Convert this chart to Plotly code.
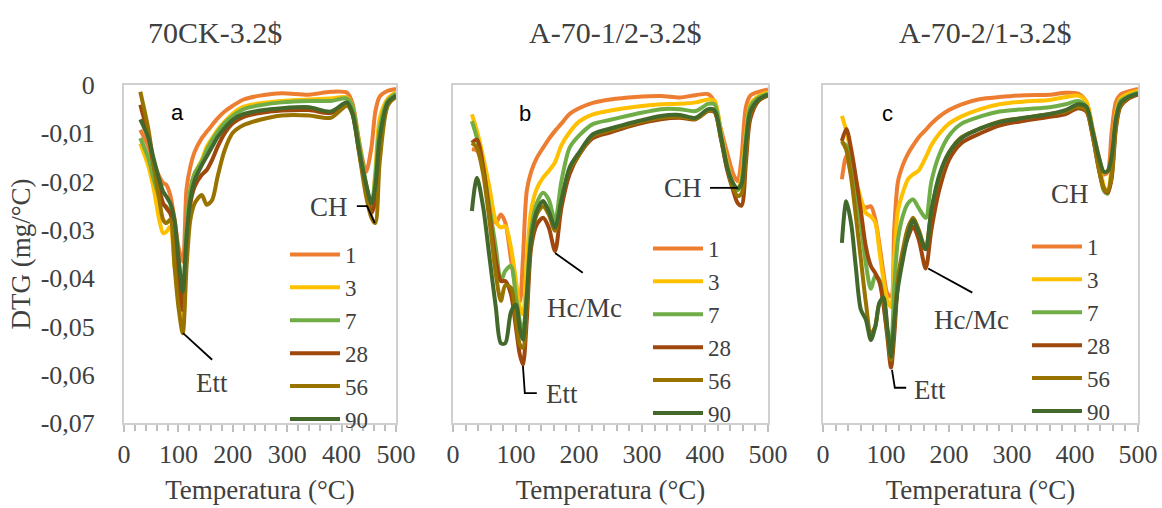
import plotly.graph_objects as go

# ---------------- data (DTG in mg/°C) ----------------
series_names = ["1", "3", "7", "28", "56", "90"]
colors = ["#ED7D31", "#FFC000", "#70AD47", "#9E480E", "#997300", "#43682B"]
panel_titles = ["70CK-3.2$", "A-70-1/2-3.2$", "A-70-2/1-3.2$"]
panel_letters = ["a", "b", "c"]

temp_a = [30, 45, 55, 65, 72, 78, 85, 93, 100, 108, 115, 122, 130, 143, 152, 162, 172, 185, 200, 220,
          250, 290, 340, 380, 410, 420, 432, 445, 455, 462, 470, 485, 500]
a_1 = [-0.0093, -0.0128, -0.0162, -0.0190, -0.0203, -0.0207, -0.0228, -0.0279, -0.0335, -0.0366,
       -0.0215, -0.0169, -0.0138, -0.0110, -0.0097, -0.0083, -0.0069, -0.0055, -0.0043, -0.0030,
       -0.0022, -0.0017, -0.0020, -0.0014, -0.0016, -0.0038, -0.0115, -0.0180, -0.0128, -0.0055,
       -0.0024, -0.0012, -0.0008]
a_3 = [-0.0121, -0.0169, -0.0217, -0.0280, -0.0307, -0.0304, -0.0293, -0.0376, -0.0438, -0.0500,
       -0.0335, -0.0217, -0.0183, -0.0155, -0.0128, -0.0110, -0.0093, -0.0076, -0.0059, -0.0045,
       -0.0038, -0.0033, -0.0030, -0.0028, -0.0026, -0.0045, -0.0120, -0.0210, -0.0255, -0.0180,
       -0.0070, -0.0028, -0.0015]
a_7 = [-0.0110, -0.0152, -0.0197, -0.0231, -0.0248, -0.0252, -0.0262, -0.0293, -0.0362, -0.0435,
       -0.0300, -0.0217, -0.0183, -0.0159, -0.0135, -0.0114, -0.0097, -0.0079, -0.0064, -0.0050,
       -0.0042, -0.0036, -0.0033, -0.0033, -0.0028, -0.0045, -0.0120, -0.0205, -0.0250, -0.0190,
       -0.0090, -0.0032, -0.0018]
a_28 = [-0.0041, -0.0107, -0.0169, -0.0217, -0.0245, -0.0255, -0.0266, -0.0307, -0.0390, -0.0466,
        -0.0335, -0.0245, -0.0210, -0.0186, -0.0176, -0.0155, -0.0128, -0.0100, -0.0079, -0.0066,
        -0.0058, -0.0053, -0.0052, -0.0058, -0.0040, -0.0058, -0.0135, -0.0220, -0.0265, -0.0240,
        -0.0130, -0.0040, -0.0023]
a_56 = [-0.0014, -0.0093, -0.0169, -0.0238, -0.0279, -0.0286, -0.0279, -0.0376, -0.0459, -0.0514,
        -0.0376, -0.0279, -0.0245, -0.0228, -0.0248, -0.0238, -0.0190, -0.0135, -0.0099, -0.0083,
        -0.0072, -0.0063, -0.0063, -0.0068, -0.0043, -0.0060, -0.0140, -0.0230, -0.0275, -0.0286,
        -0.0160, -0.0042, -0.0025]
a_90 = [-0.0071, -0.0110, -0.0155, -0.0197, -0.0221, -0.0231, -0.0245, -0.0280, -0.0356, -0.0428,
        -0.0314, -0.0238, -0.0197, -0.0166, -0.0148, -0.0128, -0.0108, -0.0089, -0.0072, -0.0060,
        -0.0053, -0.0048, -0.0046, -0.0055, -0.0036, -0.0060, -0.0135, -0.0205, -0.0245, -0.0210,
        -0.0110, -0.0036, -0.0022]

temp_b = [30, 38, 48, 58, 68, 76, 83, 92, 100, 106, 111, 117, 124, 133, 143, 152, 162, 172,
          185, 200, 222, 250, 290, 330, 360, 385, 405, 415, 425, 435, 445, 452, 458, 465, 472, 485, 500]
b_1 = [-0.0133, -0.0136, -0.0175, -0.0230, -0.0285, -0.0268, -0.0285, -0.0360, -0.0425, -0.0450,
       -0.0360, -0.0220, -0.0180, -0.0151, -0.0130, -0.0112, -0.0095, -0.0080,
       -0.0060, -0.0048, -0.0037, -0.0030, -0.0025, -0.0023, -0.0026, -0.0021, -0.0019, -0.0035,
       -0.0090, -0.0140, -0.0185, -0.0199, -0.0150, -0.0045, -0.0022, -0.0014, -0.0009]
b_3 = [-0.0061, -0.0095, -0.0150, -0.0213, -0.0282, -0.0295, -0.0292, -0.0337, -0.0406, -0.0461,
       -0.0475, -0.0364, -0.0260, -0.0215, -0.0192, -0.0178, -0.0160, -0.0125,
       -0.0098, -0.0076, -0.0061, -0.0053, -0.0045, -0.0040, -0.0039, -0.0036, -0.0030, -0.0032,
       -0.0095, -0.0160, -0.0205, -0.0218, -0.0190, -0.0100, -0.0040, -0.0023, -0.0015]
b_7 = [-0.0075, -0.0110, -0.0171, -0.0254, -0.0337, -0.0406, -0.0385, -0.0375, -0.0440, -0.0489,
       -0.0510, -0.0433, -0.0300, -0.0245, -0.0223, -0.0237, -0.0282, -0.0200,
       -0.0130, -0.0105, -0.0081, -0.0072, -0.0060, -0.0050, -0.0050, -0.0054, -0.0039, -0.0040,
       -0.0100, -0.0165, -0.0205, -0.0218, -0.0200, -0.0110, -0.0045, -0.0026, -0.0018]
b_28 = [-0.0120, -0.0113, -0.0171, -0.0268, -0.0364, -0.0406, -0.0406, -0.0433, -0.0503, -0.0558,
        -0.0579, -0.0489, -0.0337, -0.0289, -0.0275, -0.0295, -0.0344, -0.0255,
        -0.0185, -0.0145, -0.0110, -0.0098, -0.0082, -0.0071, -0.0068, -0.0071, -0.0054, -0.0056,
        -0.0110, -0.0175, -0.0220, -0.0245, -0.0250, -0.0160, -0.0070, -0.0033, -0.0022]
b_56 = [-0.0120, -0.0130, -0.0185, -0.0282, -0.0392, -0.0447, -0.0415, -0.0420, -0.0489, -0.0537,
        -0.0544, -0.0461, -0.0323, -0.0268, -0.0251, -0.0268, -0.0302, -0.0240,
        -0.0175, -0.0145, -0.0105, -0.0094, -0.0079, -0.0068, -0.0066, -0.0070, -0.0053, -0.0054,
        -0.0108, -0.0170, -0.0215, -0.0230, -0.0225, -0.0140, -0.0060, -0.0031, -0.0021]
b_90 = [-0.0261, -0.0192, -0.0254, -0.0358, -0.0461, -0.0535, -0.0535, -0.0470, -0.0455, -0.0503,
        -0.0527, -0.0440, -0.0320, -0.0261, -0.0240, -0.0261, -0.0295, -0.0240,
        -0.0171, -0.0140, -0.0102, -0.0090, -0.0076, -0.0064, -0.0062, -0.0068, -0.0050, -0.0052,
        -0.0105, -0.0170, -0.0205, -0.0214, -0.0205, -0.0120, -0.0055, -0.0030, -0.0020]

temp_c = [30, 37, 45, 52, 60, 68, 76, 83, 90, 96, 102, 108, 113, 119, 127, 135, 143, 152, 163, 172,
          185, 200, 220, 250, 280, 320, 360, 385, 405, 418, 428, 438, 446, 452, 458, 465, 472, 485, 500]
c_1 = [-0.0195, -0.0147, -0.0188, -0.0223, -0.0244, -0.0254, -0.0251, -0.0278, -0.0334, -0.0389,
       -0.0431, -0.0438, -0.0300, -0.0200, -0.0165, -0.0142, -0.0125, -0.0108, -0.0093, -0.0080,
       -0.0065, -0.0052, -0.0040, -0.0029, -0.0025, -0.0021, -0.0020, -0.0016, -0.0018, -0.0035,
       -0.0090, -0.0150, -0.0185, -0.0180, -0.0100, -0.0035, -0.0020, -0.0013, -0.0008]
c_3 = [-0.0064, -0.0095, -0.0145, -0.0195, -0.0235, -0.0265, -0.0272, -0.0285, -0.0348, -0.0403,
       -0.0445, -0.0460, -0.0360, -0.0260, -0.0222, -0.0195, -0.0185, -0.0177, -0.0150, -0.0125,
       -0.0100, -0.0080, -0.0065, -0.0050, -0.0040, -0.0034, -0.0031, -0.0025, -0.0022, -0.0035,
       -0.0095, -0.0160, -0.0210, -0.0222, -0.0170, -0.0060, -0.0028, -0.0018, -0.0012]
c_7 = [-0.0120, -0.0125, -0.0175, -0.0225, -0.0290, -0.0370, -0.0422, -0.0395, -0.0405, -0.0450,
       -0.0510, -0.0530, -0.0420, -0.0320, -0.0270, -0.0245, -0.0237, -0.0255, -0.0275, -0.0200,
       -0.0143, -0.0105, -0.0080, -0.0065, -0.0055, -0.0050, -0.0046, -0.0040, -0.0033, -0.0045,
       -0.0100, -0.0170, -0.0220, -0.0225, -0.0180, -0.0070, -0.0033, -0.0023, -0.0016]
c_28 = [-0.0116, -0.0091, -0.0135, -0.0190, -0.0260, -0.0335, -0.0375, -0.0390, -0.0410, -0.0455,
        -0.0520, -0.0585, -0.0520, -0.0410, -0.0350, -0.0315, -0.0293, -0.0320, -0.0380, -0.0300,
        -0.0215, -0.0155, -0.0120, -0.0100, -0.0084, -0.0074, -0.0066, -0.0060, -0.0048, -0.0055,
        -0.0105, -0.0175, -0.0215, -0.0223, -0.0195, -0.0090, -0.0045, -0.0028, -0.0020]
c_56 = [-0.0116, -0.0135, -0.0195, -0.0270, -0.0360, -0.0450, -0.0515, -0.0500, -0.0450, -0.0450,
        -0.0510, -0.0570, -0.0500, -0.0400, -0.0340, -0.0295, -0.0275, -0.0300, -0.0340, -0.0260,
        -0.0190, -0.0140, -0.0108, -0.0090, -0.0076, -0.0068, -0.0060, -0.0055, -0.0045, -0.0052,
        -0.0105, -0.0175, -0.0215, -0.0220, -0.0190, -0.0085, -0.0042, -0.0026, -0.0019]
c_90 = [-0.0327, -0.0241, -0.0290, -0.0376, -0.0465, -0.0486, -0.0528, -0.0500, -0.0450, -0.0440,
        -0.0500, -0.0563, -0.0490, -0.0420, -0.0360, -0.0310, -0.0280, -0.0305, -0.0340, -0.0260,
        -0.0185, -0.0140, -0.0110, -0.0090, -0.0077, -0.0068, -0.0060, -0.0052, -0.0040, -0.0045,
        -0.0095, -0.0150, -0.0180, -0.0178, -0.0150, -0.0070, -0.0038, -0.0025, -0.0018]

y_tick_vals = [0, -0.01, -0.02, -0.03, -0.04, -0.05, -0.06, -0.07]
y_tick_text = ["0", "-0,01", "-0,02", "-0,03", "-0,04", "-0,05", "-0,06", "-0,07"]
x_tick_vals = [0, 100, 200, 300, 400, 500]

# annotation label positions (data coords: temperature, DTG)
letter_pos = [(99, -0.0056), (114, -0.0060), (103, -0.0060)]
ett_text = [(162, -0.0617), (173, -0.0640), (170, -0.0632)]
ett_lead = [[(108.5, -0.0514), (162, -0.0569)],
            [(111, -0.0582), (114, -0.0638), (133, -0.0638)],
            [(109.5, -0.0590), (114, -0.0627), (132, -0.0627)]]
ch_text = [(377, -0.0253), (365, -0.0213), (392, -0.0226)]
ch_lead = [[(428, -0.0251), (447, -0.0251), (461, -0.0286)],
           [(408, -0.0213), (452, -0.0213)],
           None]
hc_text = [None, (208, -0.0462), (236, -0.0486)]
hc_lead = [None, [(162, -0.0348), (206, -0.0389)], [(167, -0.0380), (237, -0.0430)]]

panels = [
    (temp_a, [a_1, a_3, a_7, a_28, a_56, a_90]),
    (temp_b, [b_1, b_3, b_7, b_28, b_56, b_90]),
    (temp_c, [c_1, c_3, c_7, c_28, c_56, c_90]),
]

# ---------------- layout geometry ----------------
W, H = 1162, 508
x_domains = [(124 / W, 396 / W), (453 / W, 768 / W), (823 / W, 1138 / W)]
y_domain = (1 - 423 / H, 1 - 85 / H)
legend_pos = [(285 / W, 1 - 233 / H), (648 / W, 1 - 227 / H), (1027 / W, 1 - 225 / H)]
title_x = [215 / W, 615 / W, 985 / W]

SERIF = "Liberation Serif"
TXT = "#404040"
AX = "#d0d0d0"

fig = go.Figure()
leg_ids = ["legend", "legend2", "legend3"]
for p, (temps, vals) in enumerate(panels):
    xa = "x" if p == 0 else f"x{p+1}"
    ya = "y" if p == 0 else f"y{p+1}"
    for name, col, v in zip(series_names, colors, vals):
        fig.add_trace(go.Scatter(
            x=temps, y=v, mode="lines", name=name, xaxis=xa, yaxis=ya,
            line=dict(color=col, width=4, shape="spline", smoothing=0.8),
            legend=leg_ids[p], hoverinfo="skip"))

layout = dict(width=W, height=H, margin=dict(l=0, r=0, t=0, b=0),
              plot_bgcolor="white", paper_bgcolor="white", showlegend=True)

for p in range(3):
    sfx = "" if p == 0 else str(p + 1)
    layout["xaxis" + sfx] = dict(
        domain=list(x_domains[p]), anchor="y" + sfx, range=[0, 500],
        tickvals=x_tick_vals, ticks="outside", ticklen=7, tickwidth=1.5, tickcolor="#bfbfbf",
        minor=dict(dtick=20, ticks="outside", ticklen=6, tickwidth=1.5, tickcolor="#bfbfbf"),
        showline=True, mirror=True, linecolor=AX, linewidth=2,
        showgrid=False, zeroline=False, automargin=False, ticklabelstandoff=0,
        tickfont=dict(family=SERIF, size=26, color=TXT),
        title=dict(text="Temperatura (°C)", font=dict(family=SERIF, size=27, color=TXT), standoff=12))
    layout["yaxis" + sfx] = dict(
        domain=list(y_domain), anchor="x" + sfx, range=[-0.07, 0],
        tickvals=y_tick_vals, ticktext=y_tick_text, ticks="",
        showticklabels=(p == 0), ticklabelstandoff=22,
        showline=True, mirror=True, linecolor=AX, linewidth=2,
        showgrid=False, zeroline=False, automargin=False,
        tickfont=dict(family=SERIF, size=26, color=TXT),
        title=dict(text="DTG (mg/°C)" if p == 0 else "", font=dict(family=SERIF, size=27, color=TXT), standoff=2))
    lx, ly = legend_pos[p]
    layout[leg_ids[p]] = dict(
        x=lx, y=ly, xanchor="left", yanchor="top", xref="paper", yref="paper",
        font=dict(family=SERIF, size=23, color=TXT), bgcolor="rgba(0,0,0,0)",
        itemwidth=50, tracegroupgap=0, traceorder="normal")

annotations = []
shapes = []
for p in range(3):
    sfx = "" if p == 0 else str(p + 1)
    xr, yr = "x" + sfx, "y" + sfx
    annotations.append(dict(text=panel_titles[p], x=title_x[p], y=1 - 32 / H, xref="paper", yref="paper",
                            xanchor="center", yanchor="middle", showarrow=False,
                            font=dict(family=SERIF, size=30, color=TXT)))
    lx, ly = letter_pos[p]
    annotations.append(dict(text=panel_letters[p], x=lx, y=ly, xref=xr, yref=yr, showarrow=False,
                            xanchor="center", yanchor="middle",
                            font=dict(family="Liberation Sans", size=22, color="black")))
    for txt, pos in (("Ett", ett_text[p]), ("CH", ch_text[p]), ("Hc/Mc", hc_text[p])):
        if pos is None:
            continue
        annotations.append(dict(text=txt, x=pos[0], y=pos[1], xref=xr, yref=yr, showarrow=False,
                                xanchor="center", yanchor="middle",
                                font=dict(family=SERIF, size=27, color=TXT)))
    for lead in (ett_lead[p], ch_lead[p], hc_lead[p]):
        if lead is None:
            continue
        path = "M " + " L ".join(f"{t},{d}" for t, d in lead)
        shapes.append(dict(type="path", path=path, xref=xr, yref=yr,
                           line=dict(color="black", width=1.8)))

layout["annotations"] = annotations
layout["shapes"] = shapes
fig.update_layout(**layout)
fig.write_html("out.html")
